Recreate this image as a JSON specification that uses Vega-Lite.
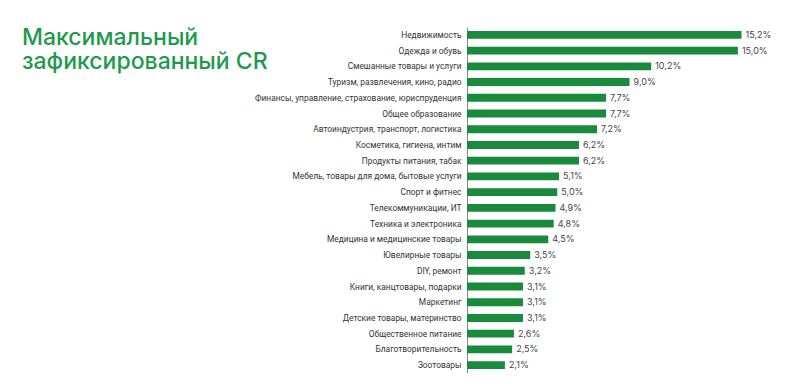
{
  "$schema": "https://vega.github.io/schema/vega-lite/v6.json",
  "autosize": "none",
  "width": 307,
  "height": 346,
  "padding": {"left": 467, "top": 27, "right": 0, "bottom": 0},
  "background": "white",
  "title": {
    "text": ["Максимальный", "зафиксированный CR"],
    "anchor": "start",
    "frame": "group",
    "orient": "top",
    "baseline": "top",
    "dx": -445,
    "dy": 47,
    "offset": 0,
    "font": "Inter",
    "fontSize": 23,
    "fontWeight": 500,
    "lineHeight": 24,
    "color": "#1e9a4e"
  },
  "data": {
    "values": [
      {"cat": "Недвижимость", "v": 15.2, "lbl": "15,2%"},
      {"cat": "Одежда и обувь", "v": 15.0, "lbl": "15,0%"},
      {"cat": "Смешанные товары и услуги", "v": 10.2, "lbl": "10,2%"},
      {"cat": "Туризм, развлечения, кино, радио", "v": 9.0, "lbl": "9,0%"},
      {"cat": "Финансы, управление, страхование, юриспруденция", "v": 7.7, "lbl": "7,7%"},
      {"cat": "Общее образование", "v": 7.7, "lbl": "7,7%"},
      {"cat": "Автоиндустрия, транспорт, логистика", "v": 7.2, "lbl": "7,2%"},
      {"cat": "Косметика, гигиена, интим", "v": 6.2, "lbl": "6,2%"},
      {"cat": "Продукты питания, табак", "v": 6.2, "lbl": "6,2%"},
      {"cat": "Мебель, товары для дома, бытовые услуги", "v": 5.1, "lbl": "5,1%"},
      {"cat": "Спорт и фитнес", "v": 5.0, "lbl": "5,0%"},
      {"cat": "Телекоммуникации, ИТ", "v": 4.9, "lbl": "4,9%"},
      {"cat": "Техника и электроника", "v": 4.8, "lbl": "4,8%"},
      {"cat": "Медицина и медицинские товары", "v": 4.5, "lbl": "4,5%"},
      {"cat": "Ювелирные товары", "v": 3.5, "lbl": "3,5%"},
      {"cat": "DIY, ремонт", "v": 3.2, "lbl": "3,2%"},
      {"cat": "Книги, канцтовары, подарки", "v": 3.1, "lbl": "3,1%"},
      {"cat": "Маркетинг", "v": 3.1, "lbl": "3,1%"},
      {"cat": "Детские товары, материнство", "v": 3.1, "lbl": "3,1%"},
      {"cat": "Общественное питание", "v": 2.6, "lbl": "2,6%"},
      {"cat": "Благотворительность", "v": 2.5, "lbl": "2,5%"},
      {"cat": "Зоотовары", "v": 2.1, "lbl": "2,1%"}
    ]
  },
  "encoding": {
    "y": {
      "field": "cat",
      "type": "nominal",
      "sort": null,
      "scale": {"paddingInner": 0.5, "paddingOuter": 0.25},
      "axis": {
        "title": null,
        "ticks": false,
        "labelPadding": 6,
        "labelFont": "Roboto",
        "labelFontSize": 8.4,
        "labelColor": "#333333",
        "labelLimit": 400,
        "domainColor": "#888888",
        "domainWidth": 1
      }
    },
    "x": {
      "field": "v",
      "type": "quantitative",
      "scale": {"domain": [0, 17]},
      "axis": null
    }
  },
  "layer": [
    {"mark": {"type": "bar", "color": "#1a8a3c"}},
    {
      "mark": {"type": "text", "align": "left", "dx": 4, "font": "Inter", "fontSize": 9, "color": "#444444"},
      "encoding": {"text": {"field": "lbl"}}
    }
  ],
  "config": {"view": {"stroke": null}}
}
